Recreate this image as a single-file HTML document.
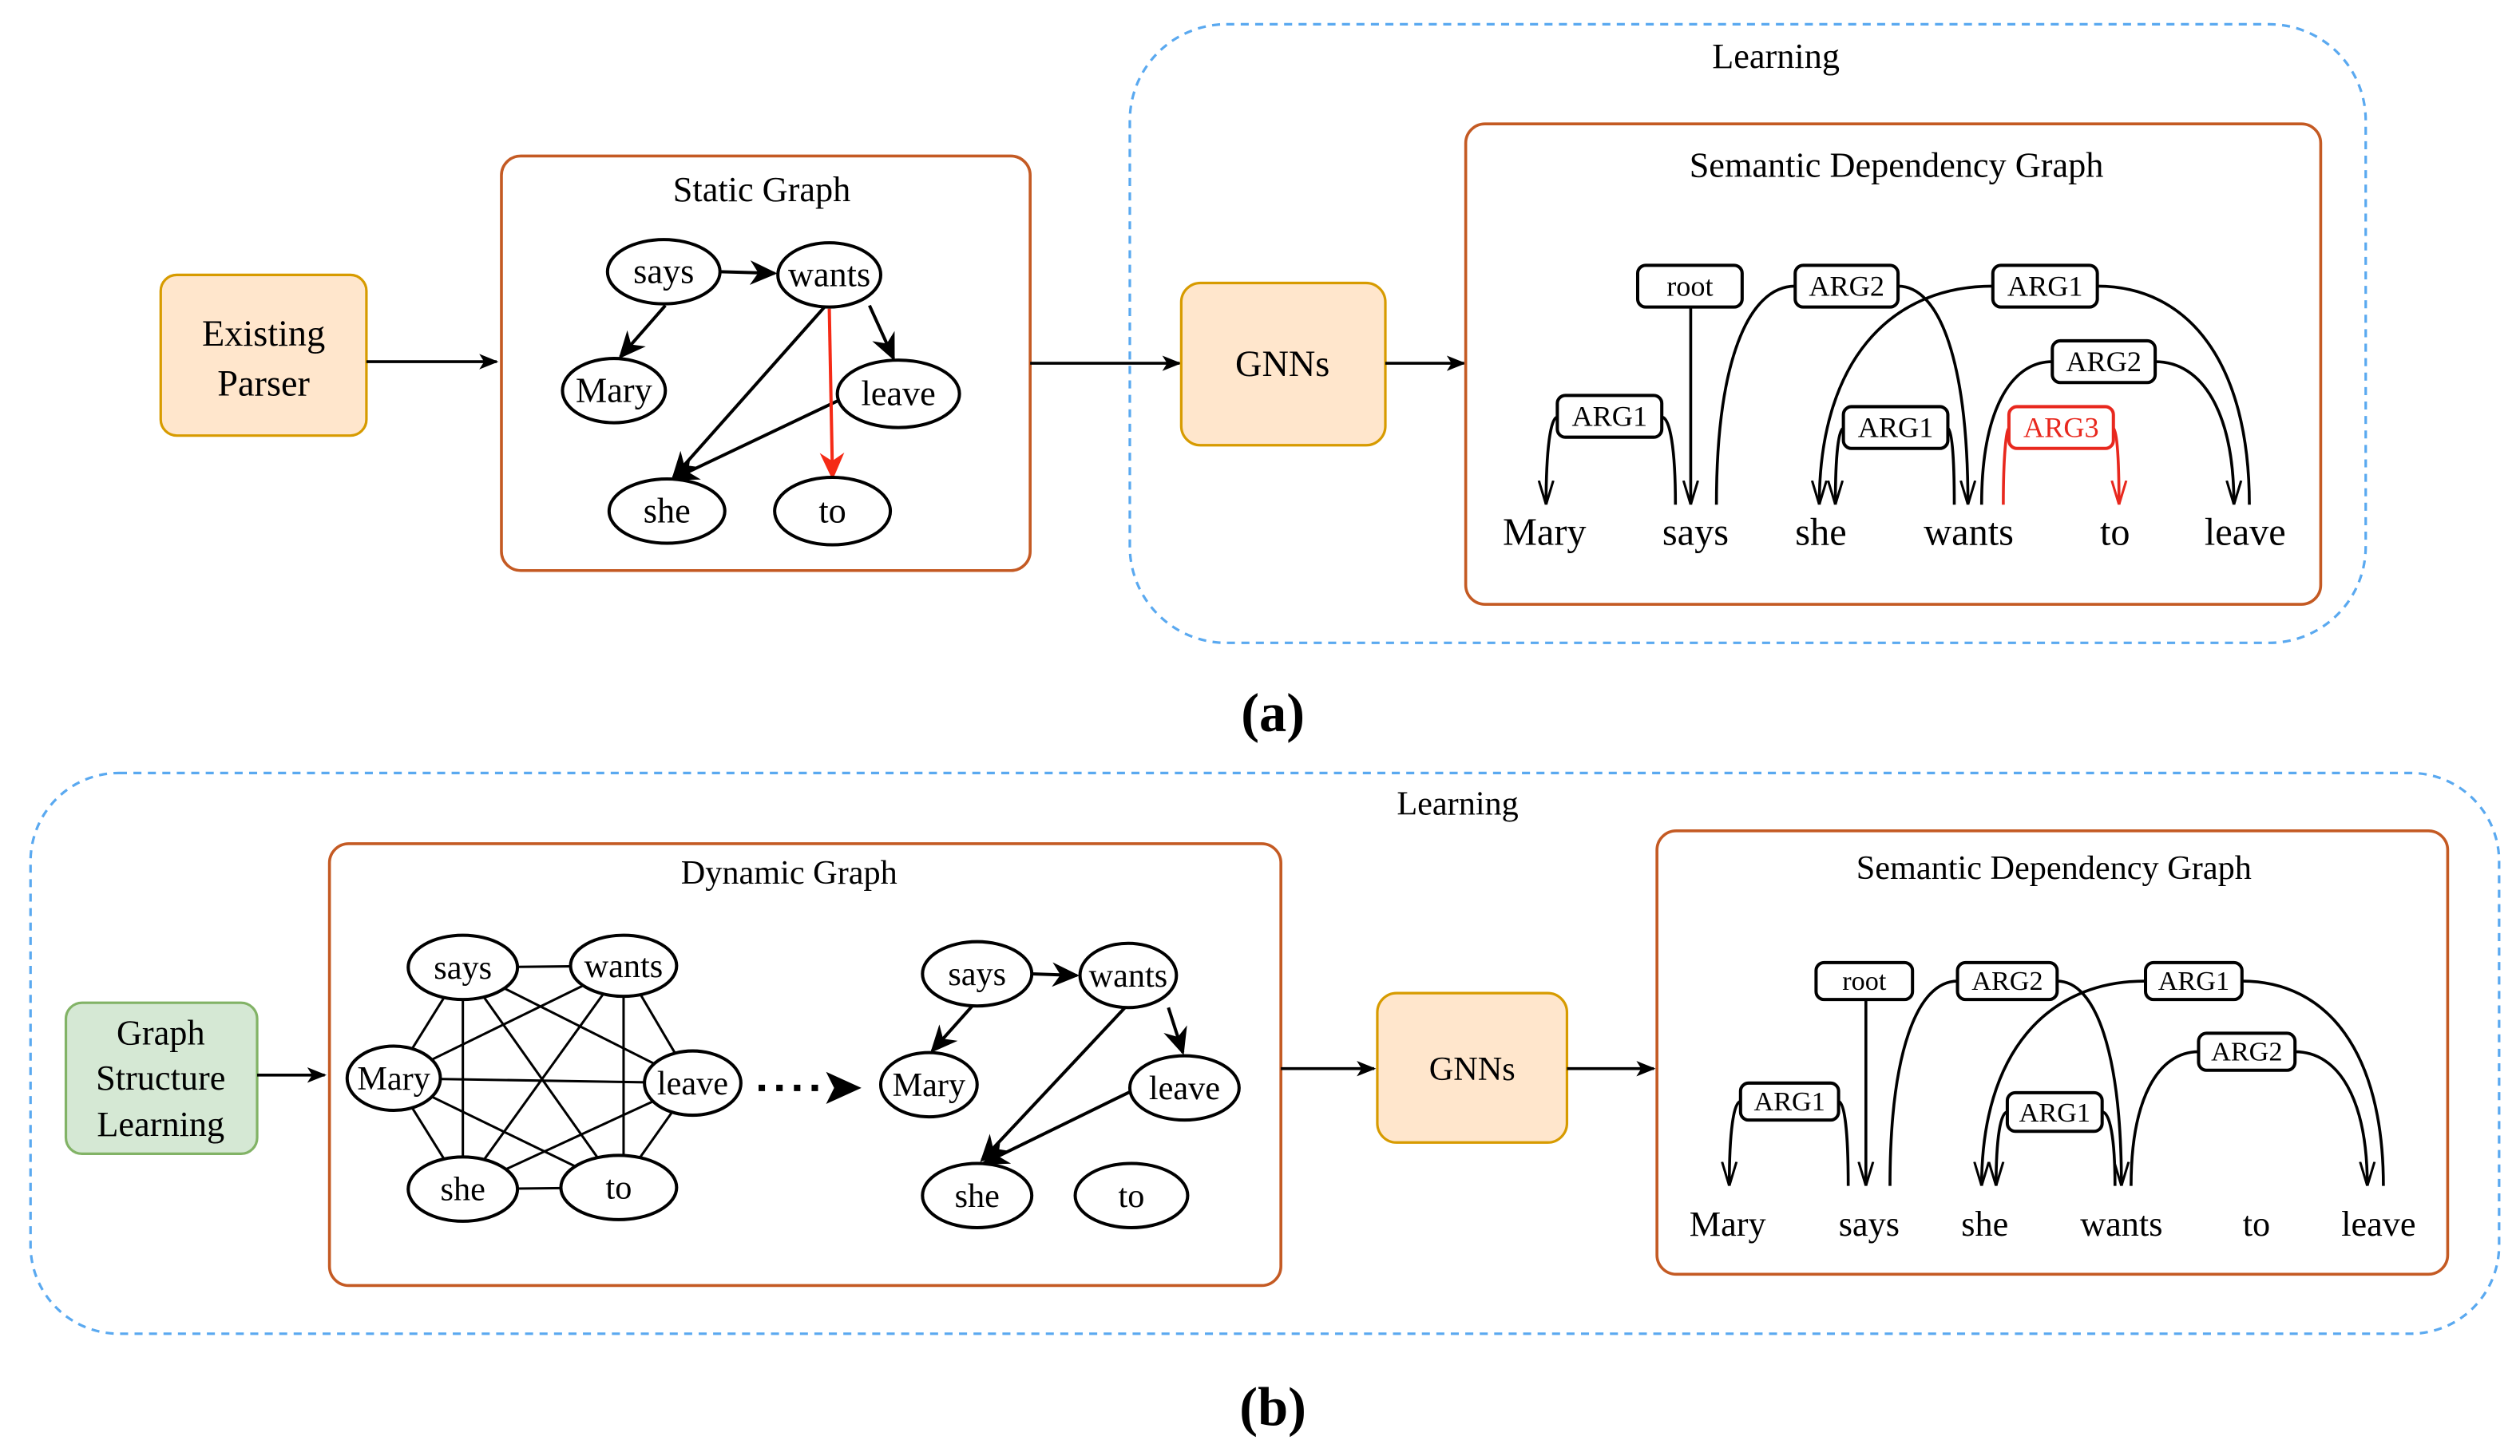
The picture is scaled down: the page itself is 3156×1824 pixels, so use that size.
<!DOCTYPE html>
<html><head><meta charset="utf-8"><style>
html,body{margin:0;padding:0;background:#fff;}
svg{display:block;}
text{font-family:"Liberation Serif",serif;fill:#000;}
</style></head><body>
<svg width="3156" height="1824" viewBox="0 0 1568 906" xmlns="http://www.w3.org/2000/svg">
<defs>
<marker id="o" viewBox="0 0 10 10" refX="10" refY="5" markerWidth="15" markerHeight="15" markerUnits="userSpaceOnUse" orient="auto"><path d="M0,2 L10,5 L0,8" fill="none" stroke="#000" stroke-width="1"/></marker>
<marker id="or" viewBox="0 0 10 10" refX="10" refY="5" markerWidth="15" markerHeight="15" markerUnits="userSpaceOnUse" orient="auto"><path d="M0,2 L10,5 L0,8" fill="none" stroke="#e8281e" stroke-width="1"/></marker>
<marker id="f" viewBox="0 0 10 10" refX="9" refY="5" markerWidth="17" markerHeight="17" markerUnits="userSpaceOnUse" orient="auto"><path d="M0,0.5 L10,5 L0,9.5 L3,5 Z" fill="#000"/></marker>
<marker id="fr" viewBox="0 0 10 10" refX="9" refY="5" markerWidth="17" markerHeight="17" markerUnits="userSpaceOnUse" orient="auto"><path d="M0,0.5 L10,5 L0,9.5 L3,5 Z" fill="#f52a16"/></marker>
<marker id="a" viewBox="0 0 10 10" refX="9" refY="5" markerWidth="12" markerHeight="12" markerUnits="userSpaceOnUse" orient="auto"><path d="M0,1 L10,5 L0,9 L2.5,5 Z" fill="#000"/></marker>
</defs>

<!-- ============ (a) ============ -->
<rect x="703" y="15" width="769" height="385" rx="60" fill="none" stroke="#5aa9f0" stroke-width="1.6" stroke-dasharray="5,4"/>
<text x="1105" y="42" font-size="22" text-anchor="middle">Learning</text>

<rect x="100" y="171" width="128" height="100" rx="10" fill="#ffe6cc" stroke="#d79b00" stroke-width="1.6"/>
<text x="164" y="215" font-size="23" text-anchor="middle">Existing</text>
<text x="164" y="246" font-size="23" text-anchor="middle">Parser</text>
<line x1="228" y1="225" x2="309" y2="225" stroke="#000" stroke-width="1.8" marker-end="url(#a)"/>

<rect x="312" y="97" width="329" height="258" rx="12" fill="none" stroke="#c45a23" stroke-width="1.8"/>
<text x="474" y="125" font-size="22" text-anchor="middle">Static Graph</text>
<g stroke="#000" stroke-width="2" fill="none">
<line x1="448" y1="169" x2="482" y2="170" marker-end="url(#f)"/>
<line x1="414" y1="190" x2="386" y2="222" marker-end="url(#f)"/>
<line x1="541" y1="190" x2="556" y2="223" marker-end="url(#f)"/>
<line x1="513" y1="191" x2="419" y2="297" marker-end="url(#f)"/>
<line x1="522" y1="249" x2="419" y2="298" marker-end="url(#f)"/>
</g>
<line x1="516" y1="192" x2="518" y2="297" stroke="#f52a16" stroke-width="2" marker-end="url(#fr)"/>
<g fill="#fff" stroke="#000" stroke-width="2">
<ellipse cx="413" cy="169" rx="35" ry="20"/>
<ellipse cx="516" cy="171" rx="32" ry="20"/>
<ellipse cx="382" cy="243" rx="32" ry="20"/>
<ellipse cx="559" cy="245" rx="38" ry="21"/>
<ellipse cx="415" cy="318" rx="36" ry="20"/>
<ellipse cx="518" cy="318" rx="36" ry="21"/>
</g>
<g font-size="22" text-anchor="middle">
<text x="413" y="176">says</text><text x="516" y="178">wants</text><text x="382" y="250">Mary</text>
<text x="559" y="252">leave</text><text x="415" y="325">she</text><text x="518" y="325">to</text>
</g>

<line x1="641" y1="226" x2="734" y2="226" stroke="#000" stroke-width="1.8" marker-end="url(#a)"/>
<rect x="735" y="176" width="127" height="101" rx="12" fill="#ffe6cc" stroke="#d79b00" stroke-width="1.6"/>
<text x="798" y="234" font-size="23" text-anchor="middle">GNNs</text>
<line x1="862" y1="226" x2="911" y2="226" stroke="#000" stroke-width="1.8" marker-end="url(#a)"/>

<rect x="912" y="77" width="532" height="299" rx="12" fill="none" stroke="#c45a23" stroke-width="1.8"/>
<text x="1180" y="110" font-size="22" text-anchor="middle">Semantic Dependency Graph</text>
<g stroke="#000" stroke-width="1.8" fill="none">
<path d="M969,259.5 C964.8,259.5 962,279.3 962,314" marker-end="url(#o)"/>
<path d="M1034,259.5 C1039.1,259.5 1042.5,279.3 1042.5,314"/>
<line x1="1052" y1="191" x2="1052" y2="314" marker-end="url(#o)"/>
<path d="M1117,178 C1087.6,178 1068,225.6 1068,314"/>
<path d="M1181,178 C1207.1,178 1224.5,225.6 1224.5,314" marker-end="url(#o)"/>
<path d="M1240,178 C1175.2,178 1132,225.6 1132,314" marker-end="url(#o)"/>
<path d="M1305,178 C1361.8,178 1399.6,225.6 1399.6,314"/>
<path d="M1277,225 C1250.6,225 1233,256.5 1233,314"/>
<path d="M1341,225 C1370.4,225 1390,256.5 1390,314" marker-end="url(#o)"/>
<path d="M1147,266.5 C1144,266.5 1142,283.3 1142,314" marker-end="url(#o)"/>
<path d="M1212,266.5 C1214.4,266.5 1216,283.3 1216,314"/>
</g>
<g stroke="#e8281e" stroke-width="1.8" fill="none">
<path d="M1250,266.5 C1248.4,266.5 1246.5,283.3 1246.5,314"/>
<path d="M1315,266.5 C1317,266.5 1318.5,283.3 1318.5,314" marker-end="url(#or)"/>
</g>
<g fill="#fff" stroke="#000" stroke-width="2">
<rect x="1019" y="165" width="65" height="26" rx="5"/>
<rect x="1117" y="165" width="64" height="26" rx="5"/>
<rect x="1240" y="165" width="65" height="26" rx="5"/>
<rect x="1277" y="212" width="64" height="26" rx="5"/>
<rect x="1147" y="253" width="65" height="26" rx="5"/>
<rect x="969" y="246" width="65" height="26" rx="5"/>
<rect x="1250" y="253" width="65" height="26" rx="5" stroke="#e8281e"/>
</g>
<g font-size="18" text-anchor="middle">
<text x="1051.5" y="184">root</text><text x="1149" y="184">ARG2</text><text x="1272.5" y="184">ARG1</text>
<text x="1309" y="231">ARG2</text><text x="1179.5" y="272">ARG1</text><text x="1001.5" y="265">ARG1</text>
<text x="1282.5" y="272" style="fill:#e8281e">ARG3</text>
</g>
<g font-size="24" text-anchor="middle">
<text x="961" y="339">Mary</text><text x="1055" y="339">says</text><text x="1133" y="339">she</text>
<text x="1225" y="339">wants</text><text x="1316" y="339">to</text><text x="1397" y="339">leave</text>
</g>

<text x="792" y="455" font-size="34" font-weight="bold" text-anchor="middle">(a)</text>

<!-- ============ (b) ============ -->
<rect x="19" y="481" width="1536" height="349" rx="55" fill="none" stroke="#5aa9f0" stroke-width="1.6" stroke-dasharray="5,4"/>
<text x="907" y="507" font-size="21" text-anchor="middle">Learning</text>

<rect x="41" y="624" width="119" height="94" rx="10" fill="#d5e8d4" stroke="#82b366" stroke-width="1.6"/>
<g font-size="22" text-anchor="middle">
<text x="100" y="650">Graph</text><text x="100" y="678">Structure</text><text x="100" y="707">Learning</text>
</g>
<line x1="160" y1="669" x2="202" y2="669" stroke="#000" stroke-width="1.8" marker-end="url(#a)"/>

<rect x="205" y="525" width="592" height="275" rx="12" fill="none" stroke="#c45a23" stroke-width="1.8"/>
<text x="491" y="550" font-size="21" text-anchor="middle">Dynamic Graph</text>
<g stroke="#000" stroke-width="1.5">
<line x1="288" y1="602" x2="388" y2="601"/><line x1="288" y1="602" x2="245" y2="671"/>
<line x1="288" y1="602" x2="431" y2="674"/><line x1="288" y1="602" x2="288" y2="740"/>
<line x1="288" y1="602" x2="385" y2="739"/><line x1="388" y1="601" x2="245" y2="671"/>
<line x1="388" y1="601" x2="431" y2="674"/><line x1="388" y1="601" x2="288" y2="740"/>
<line x1="388" y1="601" x2="388" y2="739"/><line x1="245" y1="671" x2="431" y2="674"/>
<line x1="245" y1="671" x2="288" y2="740"/><line x1="245" y1="671" x2="385" y2="739"/>
<line x1="431" y1="674" x2="288" y2="740"/><line x1="431" y1="674" x2="385" y2="739"/>
<line x1="288" y1="740" x2="385" y2="739"/>
</g>
<g fill="#fff" stroke="#000" stroke-width="2">
<ellipse cx="288" cy="602" rx="34" ry="20"/><ellipse cx="388" cy="601" rx="33" ry="19"/>
<ellipse cx="245" cy="671" rx="29" ry="20"/><ellipse cx="431" cy="674" rx="30" ry="20"/>
<ellipse cx="288" cy="740" rx="34" ry="20"/><ellipse cx="385" cy="739" rx="36" ry="20"/>
</g>
<g font-size="21" text-anchor="middle">
<text x="288" y="609">says</text><text x="388" y="608">wants</text><text x="245" y="678">Mary</text>
<text x="431" y="681">leave</text><text x="288" y="747">she</text><text x="385" y="746">to</text>
</g>
<line x1="472" y1="677" x2="512" y2="677" stroke="#000" stroke-width="4" stroke-dasharray="4,7"/>
<path d="M514,667 L536,677 L514,687 L519,677 Z" fill="#000"/>

<g stroke="#000" stroke-width="2" fill="none">
<line x1="642" y1="606" x2="670" y2="607" marker-end="url(#f)"/>
<line x1="605" y1="626" x2="580" y2="654" marker-end="url(#f)"/>
<line x1="727" y1="627" x2="736" y2="655" marker-end="url(#f)"/>
<line x1="700" y1="627" x2="611" y2="722" marker-end="url(#f)"/>
<line x1="704" y1="679" x2="612" y2="724" marker-end="url(#f)"/>
</g>
<g fill="#fff" stroke="#000" stroke-width="2">
<ellipse cx="608" cy="606" rx="34" ry="20"/><ellipse cx="702" cy="607" rx="30" ry="20"/>
<ellipse cx="578" cy="675" rx="30" ry="20"/><ellipse cx="737" cy="677" rx="34" ry="20"/>
<ellipse cx="608" cy="744" rx="34" ry="20"/><ellipse cx="704" cy="744" rx="35" ry="20"/>
</g>
<g font-size="21" text-anchor="middle">
<text x="608" y="613">says</text><text x="702" y="614">wants</text><text x="578" y="682">Mary</text>
<text x="737" y="684">leave</text><text x="608" y="751">she</text><text x="704" y="751">to</text>
</g>

<line x1="797" y1="665" x2="855" y2="665" stroke="#000" stroke-width="1.8" marker-end="url(#a)"/>
<rect x="857" y="618" width="118" height="93" rx="12" fill="#ffe6cc" stroke="#d79b00" stroke-width="1.6"/>
<text x="916" y="672" font-size="21" text-anchor="middle">GNNs</text>
<line x1="975" y1="665" x2="1029" y2="665" stroke="#000" stroke-width="1.8" marker-end="url(#a)"/>

<rect x="1031" y="517" width="492" height="276" rx="12" fill="none" stroke="#c45a23" stroke-width="1.8"/>
<text x="1278" y="547" font-size="21" text-anchor="middle">Semantic Dependency Graph</text>
<g stroke="#000" stroke-width="1.8" fill="none">
<path d="M1083,685.5 C1078.8,685.5 1076,703.6 1076,738" marker-end="url(#o)"/>
<path d="M1144,685.5 C1147.6,685.5 1150,703.6 1150,738"/>
<line x1="1161" y1="622" x2="1161" y2="738" marker-end="url(#o)"/>
<path d="M1218,610.5 C1192.8,610.5 1176,655 1176,738"/>
<path d="M1280,610.5 C1304,610.5 1320,655 1320,738" marker-end="url(#o)"/>
<path d="M1335,610.5 C1273.8,610.5 1233,655 1233,738" marker-end="url(#o)"/>
<path d="M1395,610.5 C1448.4,610.5 1483,655 1483,738"/>
<path d="M1368,654.5 C1342.8,654.5 1326,683.7 1326,738"/>
<path d="M1428,654.5 C1455,654.5 1473,683.7 1473,738" marker-end="url(#o)"/>
<path d="M1249,692 C1244.8,692 1242,708 1242,738" marker-end="url(#o)"/>
<path d="M1308,692 C1312.8,692 1316,708 1316,738"/>
</g>
<g fill="#fff" stroke="#000" stroke-width="2">
<rect x="1130" y="599" width="60" height="23" rx="5"/>
<rect x="1218" y="599" width="62" height="23" rx="5"/>
<rect x="1335" y="599" width="60" height="23" rx="5"/>
<rect x="1368" y="643" width="60" height="23" rx="5"/>
<rect x="1249" y="680" width="59" height="24" rx="5"/>
<rect x="1083" y="674" width="61" height="23" rx="5"/>
</g>
<g font-size="17" text-anchor="middle">
<text x="1160" y="616">root</text><text x="1249" y="616">ARG2</text><text x="1365" y="616">ARG1</text>
<text x="1398" y="660">ARG2</text><text x="1278.5" y="698">ARG1</text><text x="1113.5" y="691">ARG1</text>
</g>
<g font-size="22" text-anchor="middle">
<text x="1075" y="769">Mary</text><text x="1163" y="769">says</text><text x="1235" y="769">she</text>
<text x="1320" y="769">wants</text><text x="1404" y="769">to</text><text x="1480" y="769">leave</text>
</g>

<text x="792" y="887" font-size="34" font-weight="bold" text-anchor="middle">(b)</text>
</svg>
</body></html>
